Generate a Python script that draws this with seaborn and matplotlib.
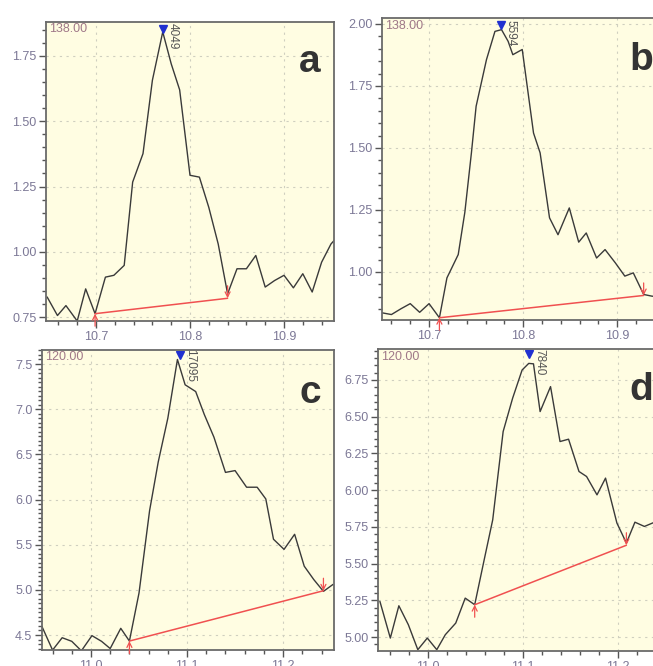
import numpy as np
import pandas as pd
import matplotlib
matplotlib.use("Agg")
import matplotlib.pyplot as plt
from matplotlib.ticker import MultipleLocator
import seaborn as sns

# panel a
time_a = [10.648, 10.659, 10.668, 10.680, 10.689, 10.699, 10.710, 10.719, 10.730, 10.739,
          10.750, 10.760, 10.771, 10.780, 10.789, 10.800, 10.810, 10.820, 10.830, 10.840,
          10.850, 10.860, 10.870, 10.880, 10.890, 10.900, 10.910, 10.920, 10.930, 10.940,
          10.950, 10.960]
abund_a = [0.827, 0.756, 0.794, 0.735, 0.858, 0.763, 0.903, 0.910, 0.948, 1.267,
           1.376, 1.657, 1.842, 1.720, 1.620, 1.293, 1.286, 1.170, 1.030, 0.839,
           0.935, 0.935, 0.986, 0.865, 0.890, 0.910, 0.862, 0.916, 0.846, 0.960,
           1.030, 1.070]

# panel b
time_b = [10.650, 10.660, 10.670, 10.680, 10.690, 10.700, 10.711, 10.719, 10.724, 10.731,
          10.738, 10.745, 10.750, 10.761, 10.770, 10.777, 10.784, 10.789, 10.799, 10.811,
          10.818, 10.828, 10.837, 10.849, 10.859, 10.867, 10.878, 10.887, 10.898, 10.908,
          10.917, 10.928, 10.937, 10.950]
abund_b = [0.835, 0.828, 0.851, 0.872, 0.837, 0.872, 0.815, 0.976, 1.015, 1.070,
           1.240, 1.480, 1.668, 1.856, 1.970, 1.977, 1.930, 1.876, 1.897, 1.560,
           1.480, 1.218, 1.150, 1.258, 1.120, 1.157, 1.056, 1.090, 1.036, 0.983,
           0.996, 0.909, 0.902, 0.900]

# panel c
time_c = [10.949, 10.960, 10.970, 10.980, 10.990, 11.001, 11.011, 11.020, 11.031, 11.040,
          11.050, 11.061, 11.070, 11.080, 11.090, 11.098, 11.109, 11.118, 11.128, 11.140,
          11.150, 11.162, 11.173, 11.182, 11.190, 11.201, 11.212, 11.222, 11.232, 11.242,
          11.252]
abund_c = [4.593, 4.333, 4.470, 4.430, 4.325, 4.493, 4.430, 4.350, 4.574, 4.433,
           4.965, 5.876, 6.415, 6.900, 7.550, 7.270, 7.195, 6.940, 6.690, 6.300,
           6.320, 6.136, 6.136, 6.006, 5.560, 5.448, 5.615, 5.262, 5.113, 4.983,
           5.060]

# panel d
time_d = [10.949, 10.960, 10.969, 10.979, 10.989, 10.999, 11.009, 11.018, 11.029, 11.039,
          11.049, 11.059, 11.068, 11.079, 11.089, 11.099, 11.106, 11.111, 11.118, 11.129,
          11.139, 11.148, 11.159, 11.167, 11.178, 11.187, 11.199, 11.209, 11.218, 11.228,
          11.238, 11.250]
abund_d = [5.243, 4.993, 5.213, 5.084, 4.914, 4.993, 4.914, 5.016, 5.095, 5.265,
           5.220, 5.526, 5.798, 6.399, 6.626, 6.818, 6.863, 6.860, 6.535, 6.705,
           6.331, 6.347, 6.127, 6.093, 5.968, 6.082, 5.776, 5.640, 5.782, 5.753,
           5.780, 5.770]

panels = [
    dict(t=time_a, y=abund_a, tag="a", ion="138.00", area="4049", peak=(10.771, 1.855),
         base=((10.699, 0.763), (10.840, 0.822)),
         box=(46, 334, 22, 321), xlim=(10.6468, 10.9532), ylim=(0.735, 1.88),
         xmaj=0.1, ymaj=0.25, lab=(310, 62)),
    dict(t=time_b, y=abund_b, tag="b", ion="138.00", area="5594", peak=(10.776, 1.995),
         base=((10.711, 0.815), (10.928, 0.905)),
         box=(382, 670, 18, 320), xlim=(10.65, 10.956), ylim=(0.806, 2.024),
         xmaj=0.1, ymaj=0.25, lab=(641, 60)),
    dict(t=time_c, y=abund_c, tag="c", ion="120.00", area="17095", peak=(11.093, 7.6),
         base=((11.040, 4.433), (11.242, 4.99)),
         box=(42, 334, 350, 650), xlim=(10.949, 11.253), ylim=(4.334, 7.655),
         xmaj=0.1, ymaj=0.5, lab=(310, 393)),
    dict(t=time_d, y=abund_d, tag="d", ion="120.00", area="7840", peak=(11.106, 6.925),
         base=((11.049, 5.22), (11.209, 5.625)),
         box=(378, 670, 349, 651), xlim=(10.947, 11.255), ylim=(4.905, 6.961),
         xmaj=0.1, ymaj=0.25, lab=(641, 390)),
]

sns.set_style("ticks")
plt.rcParams["font.family"] = ["Liberation Sans", "DejaVu Sans"]

W, H = 653, 666
fig = plt.figure(figsize=(W / 100, H / 100), dpi=100)
fig.patch.set_facecolor("white")

tick_col = "#7c7896"
red = "#f05050"
for p in panels:
    l, r, t, b = p["box"]
    ax = fig.add_axes([l / W, 1 - b / H, (r - l) / W, (b - t) / H])
    ax.set_facecolor("#fffde2")
    df = pd.DataFrame({"time": p["t"], "abundance": p["y"]})
    sns.lineplot(data=df, x="time", y="abundance", ax=ax, color="#3a3a3a", linewidth=1.0)
    (x0, y0), (x1, y1) = p["base"]
    ax.plot([x0, x1], [y0, y1], color=red, linewidth=1.1)
    # baseline start/end arrows
    ax.annotate("", xy=(x0, y0), xytext=(0, -9), textcoords="offset points",
                arrowprops=dict(arrowstyle="->", color=red, lw=0.9,
                                shrinkA=0, shrinkB=0, mutation_scale=9),
                annotation_clip=False)
    ax.annotate("", xy=(x1, y1), xytext=(0, 9), textcoords="offset points",
                arrowprops=dict(arrowstyle="->", color=red, lw=0.9,
                                shrinkA=0, shrinkB=0, mutation_scale=9),
                annotation_clip=False)
    ax.plot([p["peak"][0]], [p["peak"][1]], marker="v", color="#2030d0", markersize=6,
            linestyle="none", clip_on=False)
    ax.annotate(p["area"], xy=p["peak"], xytext=(3, 4), textcoords="offset points",
                rotation=270, ha="left", va="top", fontsize=8.5, color="#555555")
    ax.text(0.012, 0.995, p["ion"], transform=ax.transAxes, ha="left", va="top",
            fontsize=9, color="#a07888")
    ax.set_xlim(*p["xlim"])
    ax.set_ylim(*p["ylim"])
    ax.xaxis.set_major_locator(MultipleLocator(p["xmaj"]))
    ax.xaxis.set_minor_locator(MultipleLocator(0.02))
    ax.yaxis.set_major_locator(MultipleLocator(p["ymaj"]))
    ax.yaxis.set_minor_locator(MultipleLocator(0.05))
    ax.yaxis.set_major_formatter(plt.FormatStrFormatter("%.2f" if p["ymaj"] < 0.5 else "%.1f"))
    ax.xaxis.set_major_formatter(plt.FormatStrFormatter("%.1f"))
    ax.grid(True, which="major", color="#cfcfbf", linestyle=(0, (2, 4)), linewidth=0.8)
    ax.tick_params(which="major", direction="out", length=5, width=1, color="#555555",
                   labelsize=9, labelcolor=tick_col, pad=2)
    ax.tick_params(which="minor", direction="out", length=3, width=1, color="#555555")
    for s in ax.spines.values():
        s.set_color("#6a6a6a")
        s.set_linewidth(1.3)
    ax.set_xlabel("")
    ax.set_ylabel("")
    fig.text(p["lab"][0] / W, 1 - p["lab"][1] / H, p["tag"], ha="center", va="center",
             fontsize=28, fontweight="bold", color="#333333")

fig.savefig("out.png", dpi=100, facecolor="white")
